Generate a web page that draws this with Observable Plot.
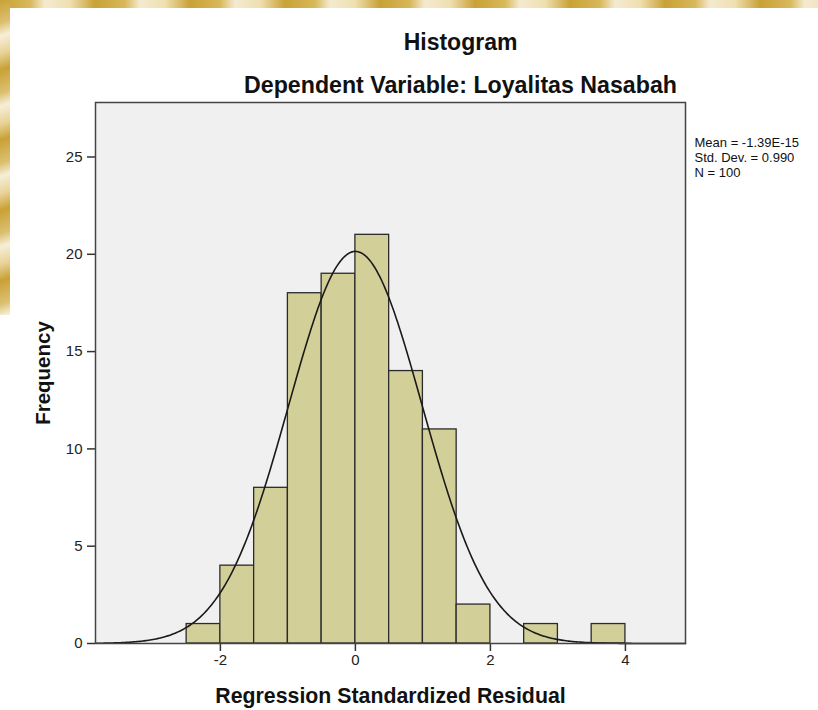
<!DOCTYPE html>
<html>
<head>
<meta charset="utf-8">
<script src="https://cdn.jsdelivr.net/npm/d3@7"></script>
<script src="https://cdn.jsdelivr.net/npm/@observablehq/plot@0.6"></script>
<style>
  html, body { margin: 0; padding: 0; background: #ffffff; }
  body { width: 818px; height: 710px; position: relative; overflow: hidden; font-family: "Liberation Sans", Arial, sans-serif; }
  .wm-top { position: absolute; left: 0; top: 0; width: 818px; height: 8px;
    background: repeating-linear-gradient(90deg, #c9a136 0px, #d8b85a 30px, #f4ead0 45px, #efe0b0 70px, #c9a136 95px); }
  .wm-left { position: absolute; left: 0; top: 0; width: 10px; height: 315px;
    background: repeating-linear-gradient(160deg, #c9a136 0px, #dcc070 22px, #f6eed8 34px, #e9d49a 50px, #c9a136 66px); }
  #chart { position: absolute; left: 0; top: 0; }
  #chart svg g[aria-label*="axis"] path, #chart svg g[aria-label*="axis"] line { stroke: #333; stroke-width: 1.5; stroke-opacity: 1; }
  #chart svg g[aria-label*="axis"] text { fill: #222; }
</style>
</head>
<body>
<div class="wm-top"></div>
<div class="wm-left"></div>
<div id="chart"></div>
<script>
// Histogram bins (bin edges, width 0.5) and frequencies
const binStart = [-2.5, -2.0, -1.5, -1.0, -0.5, 0.0, 0.5, 1.0, 1.5, 2.0, 2.5, 3.0, 3.5];
const frequency = [1, 4, 8, 18, 19, 21, 14, 11, 2, 0, 1, 0, 1];
const binWidth = 0.5;

// Summary statistics shown in the chart
const statMean = -1.39e-15;
const statSD = 0.990;
const statN = 100;
const statLabels = ["Mean = -1.39E-15", "Std. Dev. = 0.990", "N = 100"];

// Axis ticks and domains
const xTicks = [-2, 0, 2, 4];
const yTicks = [0, 5, 10, 15, 20, 25];
const xDomain = [-3.85, 4.89];
const yDomain = [0, 27.8];

const bins = binStart.map((x, i) => ({x1: x, x2: x + binWidth, y: frequency[i]})).filter(d => d.y > 0);

// Fitted normal curve (N * bin width * normal density with the stated mean and SD)
const curve = d3.range(0, 401).map(i => {
  const x = xDomain[0] + (xDomain[1] - xDomain[0]) * i / 400;
  const z = (x - statMean) / statSD;
  return {x, y: statN * binWidth * Math.exp(-0.5 * z * z) / (statSD * Math.sqrt(2 * Math.PI))};
});

const chart = Plot.plot({
  width: 818,
  height: 710,
  marginLeft: 95,
  marginRight: 133,
  marginTop: 102,
  marginBottom: 67,
  style: {background: "transparent", fontFamily: "'Liberation Sans', Arial, sans-serif", fontSize: "15px", color: "#222"},
  x: {domain: xDomain, ticks: xTicks, tickSize: 8, tickPadding: 3, label: null, tickFormat: d => d < 0 ? "-" + Math.abs(d) : String(d)},
  y: {domain: yDomain, ticks: yTicks, tickSize: 8, tickPadding: 5, label: null},
  marks: [
    Plot.frame({fill: "#f0f0f0"}),
    Plot.rectY(bins, {x1: "x1", x2: "x2", y: "y", fill: "#d3cf98", stroke: "#2b2b2b", strokeWidth: 1.3}),
    Plot.line(curve, {x: "x", y: "y", stroke: "#1a1a1a", strokeWidth: 1.6, curve: "linear"}),
    Plot.frame({stroke: "#444", strokeWidth: 1.5}),
    Plot.text(["Histogram"], {frameAnchor: "top", lineAnchor: "middle", dx: 70, dy: -60, fontSize: 23, fontWeight: "bold", fill: "#111"}),
    Plot.text(["Dependent Variable: Loyalitas Nasabah"], {frameAnchor: "top", lineAnchor: "middle", dx: 70, dy: -17, fontSize: 23.2, fontWeight: "bold", fill: "#111"}),
    Plot.text(["Frequency"], {frameAnchor: "left", textAnchor: "middle", lineAnchor: "middle", dx: -52, dy: 0, rotate: -90, fontSize: 20.5, fontWeight: "bold", fill: "#111"}),
    Plot.text(["Regression Standardized Residual"], {frameAnchor: "bottom", lineAnchor: "middle", dy: 53, fontSize: 21.3, fontWeight: "bold", fill: "#111"}),
    Plot.text([statLabels.join("\n")], {frameAnchor: "top-right", textAnchor: "start", lineAnchor: "top", dx: 9, dy: 34, fontSize: 13, lineHeight: 1.15, fill: "#111"})
  ]
});
document.getElementById("chart").appendChild(chart);
</script>
</body>
</html>
